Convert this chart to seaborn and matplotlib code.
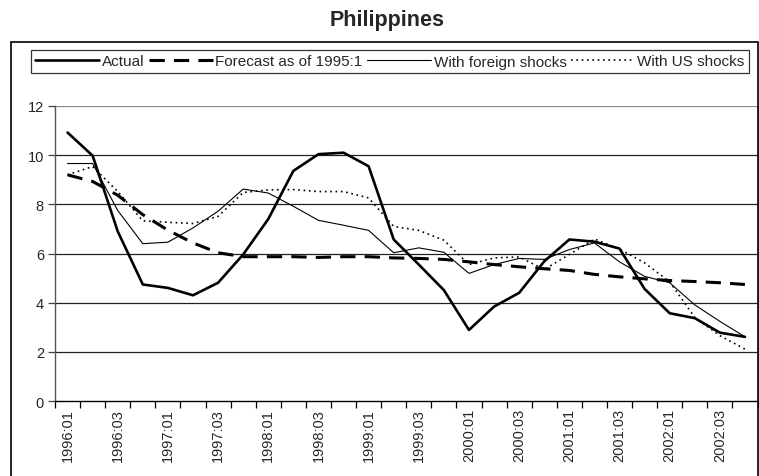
import matplotlib
matplotlib.use("Agg")
import matplotlib.pyplot as plt
import seaborn as sns
import pandas as pd
import numpy as np
from matplotlib.patches import Rectangle

quarters = [f"{y}:{q:02d}" for y in range(1996, 2003) for q in range(1, 5)]

actual = [10.92, 9.98, 6.9, 4.74, 4.6, 4.3, 4.81, 5.96, 7.4, 9.36, 10.04, 10.1, 9.55,
          6.57, 5.55, 4.51, 2.89, 3.84, 4.4, 5.68, 6.57, 6.48, 6.2, 4.56, 3.57, 3.37, 2.78, 2.61]
forecast = [9.2, 8.93, 8.37, 7.58, 6.95, 6.43, 6.03, 5.87, 5.87, 5.87, 5.84, 5.87, 5.87,
            5.82, 5.8, 5.76, 5.66, 5.55, 5.46, 5.38, 5.31, 5.15, 5.05, 4.97, 4.9, 4.86, 4.81, 4.74]
foreign = [9.66, 9.66, 7.75, 6.4, 6.46, 7.04, 7.72, 8.62, 8.46, 7.92, 7.35, 7.15, 6.94,
           6.03, 6.23, 6.05, 5.19, 5.55, 5.8, 5.76, 6.16, 6.43, 5.66, 5.07, 4.81, 3.91, 3.24, 2.61]
us = [9.2, 9.54, 8.52, 7.33, 7.27, 7.22, 7.51, 8.48, 8.59, 8.6, 8.52, 8.52, 8.26,
      7.1, 6.94, 6.54, 5.55, 5.82, 5.86, 5.35, 5.96, 6.59, 6.18, 5.62, 4.85, 3.4, 2.66, 2.11]

labels = ["Actual", "Forecast as of 1995:1", "With foreign shocks", "With US shocks"]

df = pd.DataFrame({"idx": np.arange(len(quarters)), "q": quarters,
                   "Actual": actual, "Forecast": forecast, "Foreign": foreign, "US": us})

sns.set_theme(style="white")
plt.rcParams["font.family"] = ["Liberation Sans", "DejaVu Sans"]

fig = plt.figure(figsize=(7.59, 4.77), dpi=100)
ax = fig.add_axes([55 / 759, 1 - 402 / 477, (757.5 - 55) / 759, (402 - 107) / 477])

# grid
for v in range(2, 13, 2):
    ax.axhline(v, color="#222222" if v < 12 else "#888888", lw=0.9, zorder=0)

sns.lineplot(data=df, x="idx", y="Actual", ax=ax, color="black", lw=1.9, label=labels[0])
sns.lineplot(data=df, x="idx", y="Forecast", ax=ax, color="black", lw=2.2, label=labels[1])
ax.lines[-1].set_dashes((5, 3))
sns.lineplot(data=df, x="idx", y="Foreign", ax=ax, color="black", lw=0.8, label=labels[2])
sns.lineplot(data=df, x="idx", y="US", ax=ax, color="black", lw=1.2, label=labels[3])
ax.lines[-1].set_dashes((1, 2.2))

ax.set_xlim(-0.5, len(quarters) - 0.5)
ax.set_ylim(0, 12)
ax.set_xlabel("")
ax.set_ylabel("")
ax.set_xticks(np.arange(0, len(quarters), 2))
ax.set_xticklabels(quarters[::2], rotation=90, fontsize=10.5)
ax.set_xticks(np.arange(-0.5, len(quarters), 1), minor=True)
ax.tick_params(axis="x", which="major", length=0, pad=5)
ax.tick_params(axis="x", which="minor", length=5, width=0.9, color="black", direction="out", bottom=True)
ax.set_yticks(range(0, 13, 2))
ax.tick_params(axis="y", which="major", length=5, width=0.9, color="#444444", direction="out", left=True,
               labelsize=10.5, pad=3)

ax.spines["top"].set_visible(False)
ax.spines["right"].set_color("#999999")
ax.spines["right"].set_linewidth(1.0)
ax.spines["left"].set_color("#555555")
ax.spines["left"].set_linewidth(1.0)
ax.spines["bottom"].set_color("black")
ax.spines["bottom"].set_linewidth(1.0)

ax.get_legend().remove()
handles, lbls = ax.get_legend_handles_labels()
leg = fig.legend(handles, lbls, ncol=4, loc="center",
                 bbox_to_anchor=(390 / 759, 1 - 62.5 / 477),
                 fontsize=11, frameon=True, fancybox=False, edgecolor="black",
                 handlelength=4.2, handletextpad=0.15, columnspacing=0.3,
                 borderpad=0.3, borderaxespad=0)
leg.get_frame().set_linewidth(0.9)

# outer frame
fig.patches.append(Rectangle((11 / 759, -0.05), (758 - 11) / 759, 1.05 - 43 / 477,
                             transform=fig.transFigure, fill=False, edgecolor="black", lw=1.2))

fig.text(387 / 759, 1 - 20.5 / 477, "Philippines", ha="center", va="center",
         fontsize=15.5, fontweight="bold")

fig.savefig("out.png", dpi=100)
